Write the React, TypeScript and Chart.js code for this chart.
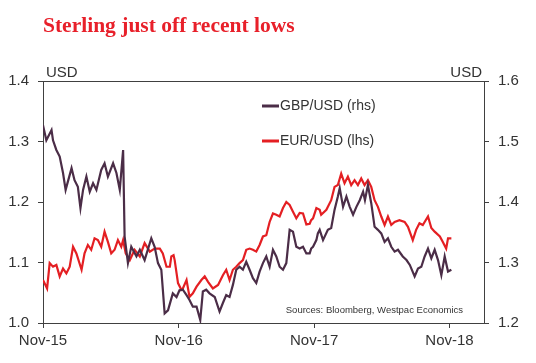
import React, { useEffect, useRef } from "react";
import { Chart, registerables } from "chart.js";

Chart.register(...registerables);

// x values: days since 1 Nov 2015
const tickDays = [0, 366, 731, 1096];
const tickLabels = ["Nov-15", "Nov-16", "Nov-17", "Nov-18"];
const xMaxDays = 1189;

const gbpDays = [
  0, 9, 23, 27, 36, 45, 54, 61, 77, 85, 94, 101, 108, 117, 126, 135, 144, 157, 166, 175,
  189, 198, 207, 216, 220, 229, 238, 252, 261, 274, 292, 301, 310, 319, 328, 337, 350, 360,
  368, 377, 387, 395, 404, 414, 424, 431, 440, 449, 463, 476, 485, 494, 503, 512, 521, 530,
  539, 548, 557, 566, 575, 584, 593, 602, 611, 620, 629, 638, 647, 656, 665, 674, 683, 692,
  701, 710, 719, 723, 728, 737, 741, 746, 755, 768, 777, 786, 795, 800, 809, 818, 827, 836,
  845, 854, 863, 868, 876, 885, 894, 903, 912, 921, 930, 939, 948, 957, 970, 980, 989, 1002,
  1011, 1020, 1029, 1038, 1047, 1056, 1065, 1074, 1083, 1092, 1101,
];
const gbpValues = [
  1.527, 1.502, 1.519, 1.502, 1.486, 1.475, 1.448, 1.42, 1.456, 1.436, 1.425, 1.39, 1.42, 1.442,
  1.417, 1.431, 1.42, 1.453, 1.464, 1.442, 1.464, 1.448, 1.42, 1.486, 1.343, 1.299, 1.326, 1.31,
  1.321, 1.304, 1.34, 1.326, 1.299, 1.288, 1.216, 1.221, 1.249, 1.243, 1.254, 1.255, 1.246,
  1.238, 1.227, 1.227, 1.205, 1.252, 1.255, 1.249, 1.243, 1.219, 1.233, 1.246, 1.243, 1.263,
  1.288, 1.293, 1.288, 1.301, 1.288, 1.274, 1.266, 1.285, 1.299, 1.31, 1.293, 1.321, 1.31,
  1.293, 1.288, 1.299, 1.354, 1.351, 1.326, 1.323, 1.326, 1.315, 1.315, 1.323, 1.326, 1.337,
  1.348, 1.354, 1.337, 1.354, 1.357, 1.387, 1.409, 1.423, 1.392, 1.409, 1.392, 1.379, 1.392,
  1.403, 1.417, 1.403, 1.428, 1.398, 1.359, 1.354, 1.348, 1.334, 1.34, 1.326, 1.318, 1.321,
  1.31, 1.304, 1.296, 1.277, 1.29, 1.293, 1.31, 1.323, 1.307, 1.321, 1.304, 1.279, 1.31, 1.285,
  1.288,
];

const eurDays = [
  0, 11, 18, 27, 36, 45, 54, 63, 72, 81, 90, 104, 112, 121, 130, 139, 148, 157, 166, 175, 184,
  193, 202, 211, 216, 223, 234, 247, 261, 274, 288, 301, 315, 323, 333, 342, 346, 352, 355,
  364, 373, 377, 387, 395, 404, 414, 427, 436, 445, 458, 472, 485, 494, 503, 512, 521, 530,
  539, 548, 557, 566, 575, 584, 593, 602, 611, 620, 629, 638, 647, 656, 665, 674, 683, 692,
  701, 710, 719, 723, 728, 737, 746, 750, 764, 777, 786, 795, 804, 813, 822, 831, 840, 849,
  858, 867, 876, 885, 894, 903, 912, 921, 930, 939, 948, 961, 975, 984, 997, 1006, 1015, 1024,
  1038, 1047, 1056, 1070, 1078, 1087, 1092, 1101,
];
const eurValues = [
  1.071, 1.057, 1.099, 1.093, 1.096, 1.077, 1.09, 1.082, 1.093, 1.126, 1.115, 1.088, 1.115,
  1.129, 1.121, 1.14, 1.137, 1.126, 1.151, 1.134, 1.115, 1.121, 1.137, 1.126, 1.137, 1.115,
  1.104, 1.121, 1.11, 1.132, 1.118, 1.123, 1.123, 1.115, 1.093, 1.093, 1.11, 1.112, 1.104,
  1.066, 1.055, 1.057, 1.071, 1.043, 1.049, 1.06, 1.071, 1.077, 1.068, 1.057, 1.063, 1.079,
  1.088, 1.071, 1.088, 1.093, 1.099, 1.104, 1.121, 1.123, 1.121, 1.118, 1.129, 1.143, 1.145,
  1.167, 1.181, 1.179, 1.176, 1.19, 1.2, 1.195, 1.184, 1.173, 1.182, 1.181, 1.163, 1.164, 1.17,
  1.173, 1.19, 1.187, 1.179, 1.187, 1.203, 1.225, 1.228, 1.247, 1.231, 1.242, 1.228, 1.236,
  1.228, 1.239, 1.228, 1.236, 1.225, 1.203, 1.192, 1.176, 1.162, 1.176, 1.162, 1.167, 1.17,
  1.167, 1.159, 1.137, 1.154, 1.165, 1.162, 1.176, 1.157, 1.151, 1.143, 1.134, 1.123, 1.14,
  1.14,
];

const GBP_COLOR = "#4b2d47";
const EUR_COLOR = "#e41f23";
const AXIS_COLOR = "#404040";
const TEXT_COLOR = "#333333";
const SANS = "'Liberation Sans', Arial, sans-serif";

const overlayPlugin = {
  id: "overlay",
  afterDraw(chart: any) {
    const { ctx, chartArea } = chart;
    const { left, right, top } = chartArea;
    ctx.save();
    // top border
    ctx.strokeStyle = AXIS_COLOR;
    ctx.lineWidth = 1;
    ctx.beginPath();
    ctx.moveTo(left, top + 0.5);
    ctx.lineTo(right, top + 0.5);
    ctx.stroke();

    // title
    ctx.fillStyle = "#e8202a";
    ctx.font = "bold 21.5px 'Liberation Serif', 'Times New Roman', serif";
    ctx.textAlign = "left";
    ctx.textBaseline = "alphabetic";
    ctx.fillText("Sterling just off recent lows", 43, 32);

    // axis units
    ctx.fillStyle = TEXT_COLOR;
    ctx.font = `15px ${SANS}`;
    ctx.textAlign = "left";
    ctx.fillText("USD", 46, 77);
    ctx.textAlign = "right";
    ctx.fillText("USD", 482, 77);

    // legend
    const items = [
      { label: "GBP/USD (rhs)", color: GBP_COLOR, y: 106 },
      { label: "EUR/USD (lhs)", color: EUR_COLOR, y: 141 },
    ];
    ctx.font = `14px ${SANS}`;
    ctx.textAlign = "left";
    ctx.textBaseline = "middle";
    for (const it of items) {
      ctx.strokeStyle = it.color;
      ctx.lineWidth = 3;
      ctx.beginPath();
      ctx.moveTo(262, it.y);
      ctx.lineTo(279, it.y);
      ctx.stroke();
      ctx.fillStyle = TEXT_COLOR;
      ctx.fillText(it.label, 280, it.y);
    }

    // source
    ctx.font = `9.5px ${SANS}`;
    ctx.textAlign = "right";
    ctx.textBaseline = "alphabetic";
    ctx.fillStyle = TEXT_COLOR;
    ctx.fillText("Sources: Bloomberg, Westpac Economics", 463, 312.5);
    ctx.restore();
  },
};

export default function App() {
  const canvasRef = useRef<HTMLCanvasElement | null>(null);

  useEffect(() => {
    if (!canvasRef.current) return;
    const gbpData = gbpDays.map((d, i) => ({ x: d, y: gbpValues[i] }));
    const eurData = eurDays.map((d, i) => ({ x: d, y: eurValues[i] }));
    const tickFont = { family: SANS, size: 15 };

    const chart = new Chart(canvasRef.current, {
      type: "line",
      data: {
        datasets: [
          {
            label: "GBP/USD (rhs)",
            data: gbpData,
            yAxisID: "y1",
            borderColor: GBP_COLOR,
            borderWidth: 2.2,
            pointRadius: 0,
            tension: 0,
          },
          {
            label: "EUR/USD (lhs)",
            data: eurData,
            yAxisID: "y",
            borderColor: EUR_COLOR,
            borderWidth: 2.2,
            pointRadius: 0,
            tension: 0,
          },
        ],
      },
      options: {
        animation: false,
        responsive: true,
        maintainAspectRatio: false,
        layout: { padding: { top: 81, left: 0, right: 0, bottom: 0 } },
        plugins: {
          legend: { display: false },
          tooltip: { enabled: false },
          title: { display: false },
        },
        scales: {
          x: {
            type: "linear",
            min: 0,
            max: xMaxDays,
            afterBuildTicks: (scale: any) => {
              scale.ticks = tickDays.map((v) => ({ value: v }));
            },
            afterFit: (scale: any) => {
              scale.height = 40;
            },
            ticks: {
              autoSkip: false,
              maxRotation: 0,
              padding: 4,
              color: TEXT_COLOR,
              font: tickFont,
              callback: (v: any) => {
                const idx = tickDays.indexOf(Number(v));
                return idx >= 0 ? tickLabels[idx] : "";
              },
            },
            grid: { drawOnChartArea: false, drawTicks: true, tickLength: 5, color: AXIS_COLOR },
            border: { display: true, color: AXIS_COLOR, width: 1 },
          },
          y: {
            type: "linear",
            position: "left",
            min: 1.0,
            max: 1.4,
            afterFit: (scale: any) => {
              scale.width = 43;
            },
            ticks: {
              stepSize: 0.1,
              padding: 9,
              color: TEXT_COLOR,
              font: tickFont,
              callback: (v: any) => Number(v).toFixed(1),
            },
            grid: { drawOnChartArea: false, drawTicks: true, tickLength: 5, color: AXIS_COLOR },
            border: { display: true, color: AXIS_COLOR, width: 1 },
          },
          y1: {
            type: "linear",
            position: "right",
            min: 1.2,
            max: 1.6,
            afterFit: (scale: any) => {
              scale.width = 52;
            },
            ticks: {
              stepSize: 0.1,
              padding: 9,
              color: TEXT_COLOR,
              font: tickFont,
              callback: (v: any) => Number(v).toFixed(1),
            },
            grid: { drawOnChartArea: false, drawTicks: true, tickLength: 5, color: AXIS_COLOR },
            border: { display: true, color: AXIS_COLOR, width: 1 },
          },
        },
      },
      plugins: [overlayPlugin],
    } as any);

    return () => chart.destroy();
  }, []);

  return (
    <div
      style={{
        position: "fixed",
        left: 0,
        top: 0,
        width: 536,
        height: 363,
        background: "#ffffff",
      }}
    >
      <canvas ref={canvasRef} />
    </div>
  );
}
